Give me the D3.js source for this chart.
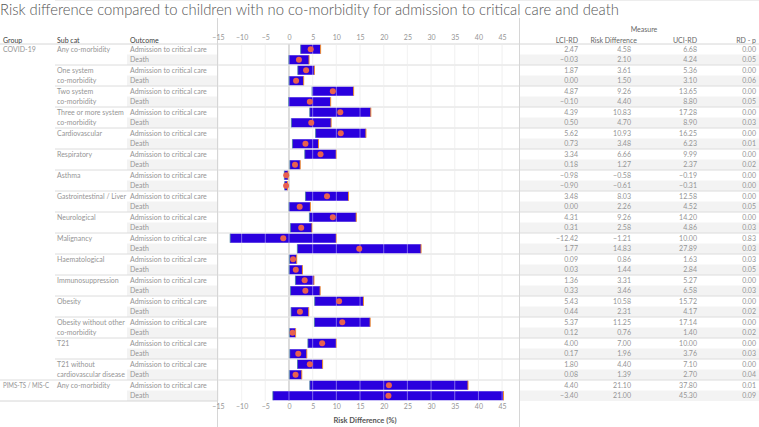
<!DOCTYPE html>
<html><head><meta charset="utf-8">
<script src="https://cdn.jsdelivr.net/npm/d3@7"></script>
<style>
html,body{margin:0;padding:0;background:#fff;}
svg text{font-family:Lato,"Open Sans",sans-serif;}
</style></head>
<body><svg id="c" width="759" height="427"></svg>
<script>
// ---- data ----
const groups = ["COVID-19","COVID-19","COVID-19","COVID-19","COVID-19","COVID-19","COVID-19","COVID-19","COVID-19","COVID-19","COVID-19","COVID-19","COVID-19","COVID-19","COVID-19","COVID-19","PIMS-TS / MIS-C"];
const subcats = [["Any co-morbidity"],["One system","co-morbidity"],["Two system","co-morbidity"],["Three or more system","co-morbidity"],["Cardiovascular"],["Respiratory"],["Asthma"],["Gastrointestinal / Liver"],["Neurological"],["Malignancy"],["Haematological"],["Immunosuppression"],["Obesity"],["Obesity without other","co-morbidity"],["T21"],["T21 without","cardiovascular disease"],["Any co-morbidity"]];
const outcomes = ["Admission to critical care","Death"];
// per subcat: [admission, death]
const lci = [[2.47,-0.03],[1.87,0.00],[4.87,-0.10],[4.39,0.50],[5.62,0.73],[3.34,0.18],[-0.98,-0.90],[3.48,0.00],[4.31,0.31],[-12.42,1.77],[0.09,0.03],[1.36,0.33],[5.43,0.44],[5.37,0.12],[4.00,0.17],[1.80,0.08],[4.40,-3.40]];
const rd  = [[4.58,2.10],[3.61,1.50],[9.26,4.40],[10.83,4.70],[10.93,3.48],[6.66,1.27],[-0.58,-0.61],[8.03,2.26],[9.26,2.58],[-1.21,14.83],[0.86,1.44],[3.31,3.46],[10.58,2.31],[11.25,0.76],[7.00,1.96],[4.40,1.39],[21.10,21.00]];
const uci = [[6.68,4.24],[5.36,3.10],[13.65,8.80],[17.28,8.90],[16.25,6.23],[9.99,2.37],[-0.19,-0.31],[12.58,4.52],[14.20,4.86],[10.00,27.89],[1.63,2.84],[5.27,6.58],[15.72,4.17],[17.14,1.40],[10.00,3.76],[7.10,2.70],[37.80,45.30]];
const pval = [[0.00,0.05],[0.00,0.06],[0.00,0.05],[0.00,0.03],[0.00,0.01],[0.00,0.02],[0.00,0.00],[0.00,0.05],[0.00,0.03],[0.83,0.03],[0.03,0.05],[0.00,0.03],[0.00,0.02],[0.00,0.02],[0.00,0.03],[0.00,0.04],[0.01,0.09]];
const tickVals = [-15,-10,-5,0,5,10,15,20,25,30,35,40,45];
const measureCols = ["LCI-RD","Risk Difference","UCI-RD","RD - p"];

// ---- build rows ----
const rows = [];
subcats.forEach((s,i)=>{
  outcomes.forEach((o,j)=>{
    rows.push({g:i, j, group:groups[i], outcome:o, lci:lci[i][j], rd:rd[i][j], uci:uci[i][j], p:pval[i][j]});
  });
});

const svg = d3.select("#c");
const top0 = 44, rowH = 10.5;
const y = d3.scaleBand().domain(d3.range(rows.length)).range([top0, top0+rowH*rows.length]).padding(0);
const bottom = top0 + rowH*rows.length;
const x = d3.scaleLinear().domain([-15.2, 47.3]).range([217, 513]);

const txtCol = "#959595", hdrCol = "#3a3a3a";
const fs = 7;
const fw = 400;

// title
svg.append("text").attr("x",0).attr("y",14.5).attr("font-size",14.8).attr("font-weight",300).attr("fill","#555")
  .text("Risk difference compared to children with no co-morbidity for admission to critical care and death");

// shading of Death rows
rows.forEach((r,i)=>{
  if(r.j===1){
    svg.append("rect").attr("x",127).attr("y",y(i)).attr("width",90).attr("height",rowH).attr("fill","#f3f3f3");
    svg.append("rect").attr("x",519).attr("y",y(i)).attr("width",240).attr("height",rowH).attr("fill","#f3f3f3");
  }
});

// vertical gridlines (under)
const grid = svg.append("g");
tickVals.forEach(t=>{
  grid.append("line").attr("x1",x(t)).attr("x2",x(t)).attr("y1",top0).attr("y2",bottom)
    .attr("stroke", t===0 ? "#a8a8a8" : "#ececec").attr("stroke-width",1);
});

// horizontal separators
svg.append("line").attr("x1",0).attr("x2",759).attr("y1",top0).attr("y2",top0).attr("stroke","#d6d6d6");
subcats.forEach((s,i)=>{
  const yy = y(i*2+2);
  const x0 = (i===15) ? 0 : 55;
  svg.append("line").attr("x1",x0).attr("x2",759).attr("y1",yy).attr("y2",yy).attr("stroke","#dcdcdc");
});

// bars
const bh = 9;
rows.forEach((r,i)=>{
  const yc = y(i)+rowH/2;
  svg.append("rect").attr("x",x(r.lci)).attr("y",yc-bh/2).attr("width",x(r.uci)-x(r.lci)).attr("height",bh).attr("fill","#2a00de");
  svg.append("line").attr("x1",x(r.uci)).attr("x2",x(r.uci)).attr("y1",yc-bh/2).attr("y2",yc+bh/2).attr("stroke","#f28e2b").attr("stroke-width",1);
  svg.append("line").attr("x1",x(r.lci)).attr("x2",x(r.lci)).attr("y1",yc-bh/2).attr("y2",yc+bh/2).attr("stroke","#3f7f9a").attr("stroke-width",0.8);
});
// gridlines over bars (light)
tickVals.forEach(t=>{
  svg.append("line").attr("x1",x(t)).attr("x2",x(t)).attr("y1",top0).attr("y2",bottom)
    .attr("stroke","#ffffff").attr("stroke-opacity",0.4).attr("stroke-width",1);
});
// points
rows.forEach((r,i)=>{
  svg.append("circle").attr("cx",x(r.rd)).attr("cy",y(i)+rowH/2).attr("r",3).attr("fill","#e8604f");
});

// pane borders
svg.append("line").attr("x1",217.5).attr("x2",217.5).attr("y1",18).attr("y2",427).attr("stroke","#d6d6d6");
svg.append("line").attr("x1",519.5).attr("x2",519.5).attr("y1",18).attr("y2",427).attr("stroke","#d6d6d6");
svg.append("line").attr("x1",0).attr("x2",217).attr("y1",bottom).attr("y2",bottom).attr("stroke","#d6d6d6");

// axes
const axTop = d3.axisTop(x).tickValues(tickVals).tickSize(0).tickPadding(0);
const gt = svg.append("g").attr("transform","translate(0,39.5)").call(axTop);
const axBot = d3.axisBottom(x).tickValues(tickVals).tickSize(0).tickPadding(0);
const gb = svg.append("g").attr("transform",`translate(0,${bottom+3.5})`).call(axBot);
[gt,gb].forEach(g=>{
  g.select(".domain").remove();
  g.selectAll("text").attr("font-size",fs).attr("fill",txtCol).attr("font-weight",fw).attr("font-family","Lato,sans-serif");
});
svg.append("text").attr("x",365).attr("y",423).attr("text-anchor","middle").attr("font-size",7.5).attr("font-weight","bold").attr("fill","#555").text("Risk Difference (%)");

// left table headers
const hdrY = 42.5;
[["Group",3],["Sub cat",57],["Outcome",130]].forEach(([t,xx])=>{
  svg.append("text").attr("x",xx).attr("y",hdrY).attr("font-size",fs).attr("fill",hdrCol).text(t);
});
// group labels
[0,16].forEach(i=>{
  const t = svg.append("text").attr("x",3).attr("y",y(i*2)+rowH/2+2.5).attr("font-size",fs).attr("font-weight",fw).attr("fill",txtCol).text(groups[i]);
  if(i===16) t.attr("textLength",46).attr("lengthAdjust","spacingAndGlyphs");
});
// sub cat labels
subcats.forEach((s,i)=>{
  s.forEach((line,k)=>{
    const t = svg.append("text").attr("x",57).attr("y",y(i*2+k)+rowH/2+2.5).attr("font-size",fs).attr("font-weight",fw).attr("fill",txtCol).text(line);
    if(line==="Gastrointestinal / Liver") t.attr("textLength",69).attr("lengthAdjust","spacingAndGlyphs");
  });
});
// outcomes
rows.forEach((r,i)=>{
  svg.append("text").attr("x",130).attr("y",y(i)+rowH/2+2.5).attr("font-size",fs).attr("font-weight",fw).attr("fill",txtCol).text(r.outcome);
});

// right table
svg.append("text").attr("x",644).attr("y",32).attr("text-anchor","middle").attr("font-size",fs).attr("fill","#666").text("Measure");
const colX = [578,637,697,756];
const valX = [578,631,697,756];
measureCols.forEach((c,k)=>{
  svg.append("text").attr("x",colX[k]).attr("y",hdrY).attr("text-anchor","end").attr("font-size",fs).attr("fill","#666").text(c);
});
const fmt = d3.format(".2f");
rows.forEach((r,i)=>{
  [r.lci,r.rd,r.uci,r.p].forEach((v,k)=>{
    svg.append("text").attr("x",valX[k]).attr("y",y(i)+rowH/2+2.5).attr("text-anchor","end").attr("font-size",fs).attr("font-weight",fw).attr("fill",txtCol).text(fmt(v));
  });
});
</script></body></html>
